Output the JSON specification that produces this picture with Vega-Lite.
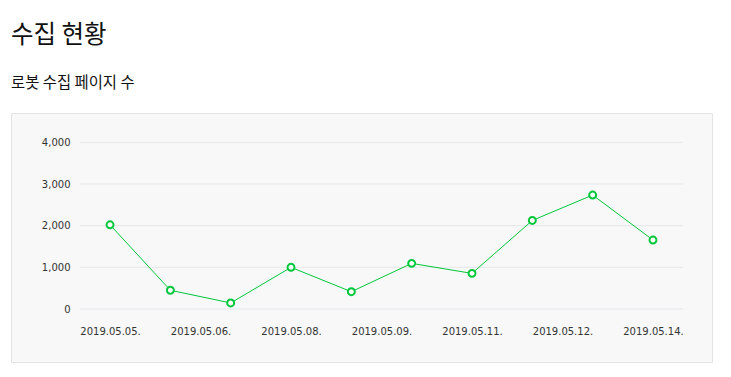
{
  "$schema": "https://vega.github.io/schema/vega-lite/v6.json",
  "width": 701,
  "height": 249,
  "padding": {"left": 11, "top": 23, "right": 19, "bottom": 15},
  "background": "white",
  "title": {
    "text": "수집 현황",
    "subtitle": "로봇 수집 페이지 수",
    "anchor": "start",
    "frame": "group",
    "font": "Noto Sans CJK KR",
    "fontSize": 24.5,
    "fontWeight": "normal",
    "color": "#111111",
    "subtitleFont": "Noto Sans CJK KR",
    "subtitleFontSize": 15.4,
    "subtitleColor": "#111111",
    "subtitlePadding": 27,
    "offset": 21
  },
  "config": {
    "view": {"fill": "#f8f8f8", "stroke": "#e3e3e3", "strokeWidth": 1},
    "axis": {"labelFont": "DejaVu Sans", "labelFontSize": 10, "labelColor": "#333333"}
  },
  "datasets": {
    "pages": [
      {"date": "2019/05/05", "count": 2020},
      {"date": "2019/05/06", "count": 450},
      {"date": "2019/05/07", "count": 145},
      {"date": "2019/05/08", "count": 1000},
      {"date": "2019/05/09", "count": 415},
      {"date": "2019/05/10", "count": 1095},
      {"date": "2019/05/11", "count": 855},
      {"date": "2019/05/12", "count": 2125},
      {"date": "2019/05/13", "count": 2735},
      {"date": "2019/05/14", "count": 1655}
    ],
    "grid": [
      {"level": 0, "start": "2019/05/04 12:00", "end": "2019/05/14 12:00"},
      {"level": 1000, "start": "2019/05/04 12:00", "end": "2019/05/14 12:00"},
      {"level": 2000, "start": "2019/05/04 12:00", "end": "2019/05/14 12:00"},
      {"level": 3000, "start": "2019/05/04 12:00", "end": "2019/05/14 12:00"},
      {"level": 4000, "start": "2019/05/04 12:00", "end": "2019/05/14 12:00"}
    ]
  },
  "layer": [
    {
      "data": {"name": "grid"},
      "mark": {"type": "rule", "color": "#e6e7ea", "strokeWidth": 1},
      "encoding": {
        "x": {
          "field": "start",
          "type": "temporal",
          "scale": {
            "domain": [
              {"year": 2019, "month": 5, "date": 3, "hours": 8, "minutes": 36},
              {"year": 2019, "month": 5, "date": 14, "hours": 23, "minutes": 29}
            ],
            "nice": false
          },
          "axis": {
            "orient": "bottom",
            "title": null,
            "values": [
              {"year": 2019, "month": 5, "date": 5},
              {"year": 2019, "month": 5, "date": 6, "hours": 12},
              {"year": 2019, "month": 5, "date": 8},
              {"year": 2019, "month": 5, "date": 9, "hours": 12},
              {"year": 2019, "month": 5, "date": 11},
              {"year": 2019, "month": 5, "date": 12, "hours": 12},
              {"year": 2019, "month": 5, "date": 14}
            ],
            "format": "%Y.%m.%d.",
            "offset": -53,
            "domain": false,
            "ticks": false,
            "grid": false,
            "labelPadding": 17,
            "labelFlush": false,
            "labelOverlap": false
          }
        },
        "x2": {"field": "end"},
        "y": {
          "field": "level",
          "type": "quantitative",
          "scale": {"domain": [-1272, 4704], "nice": false, "zero": false},
          "axis": {
            "title": null,
            "values": [0, 1000, 2000, 3000, 4000],
            "format": ",d",
            "offset": -69,
            "domain": false,
            "ticks": false,
            "grid": false,
            "labelPadding": 10
          }
        }
      }
    },
    {
      "data": {"name": "pages"},
      "mark": {"type": "line", "color": "#00c73c", "strokeWidth": 1},
      "encoding": {
        "x": {"field": "date", "type": "temporal"},
        "y": {"field": "count", "type": "quantitative"}
      }
    },
    {
      "data": {"name": "pages"},
      "mark": {"type": "point", "shape": "circle", "filled": false, "fill": "white", "fillOpacity": 1, "stroke": "#00c73c", "strokeWidth": 2, "size": 48, "opacity": 1},
      "encoding": {
        "x": {"field": "date", "type": "temporal"},
        "y": {"field": "count", "type": "quantitative"}
      }
    }
  ]
}
